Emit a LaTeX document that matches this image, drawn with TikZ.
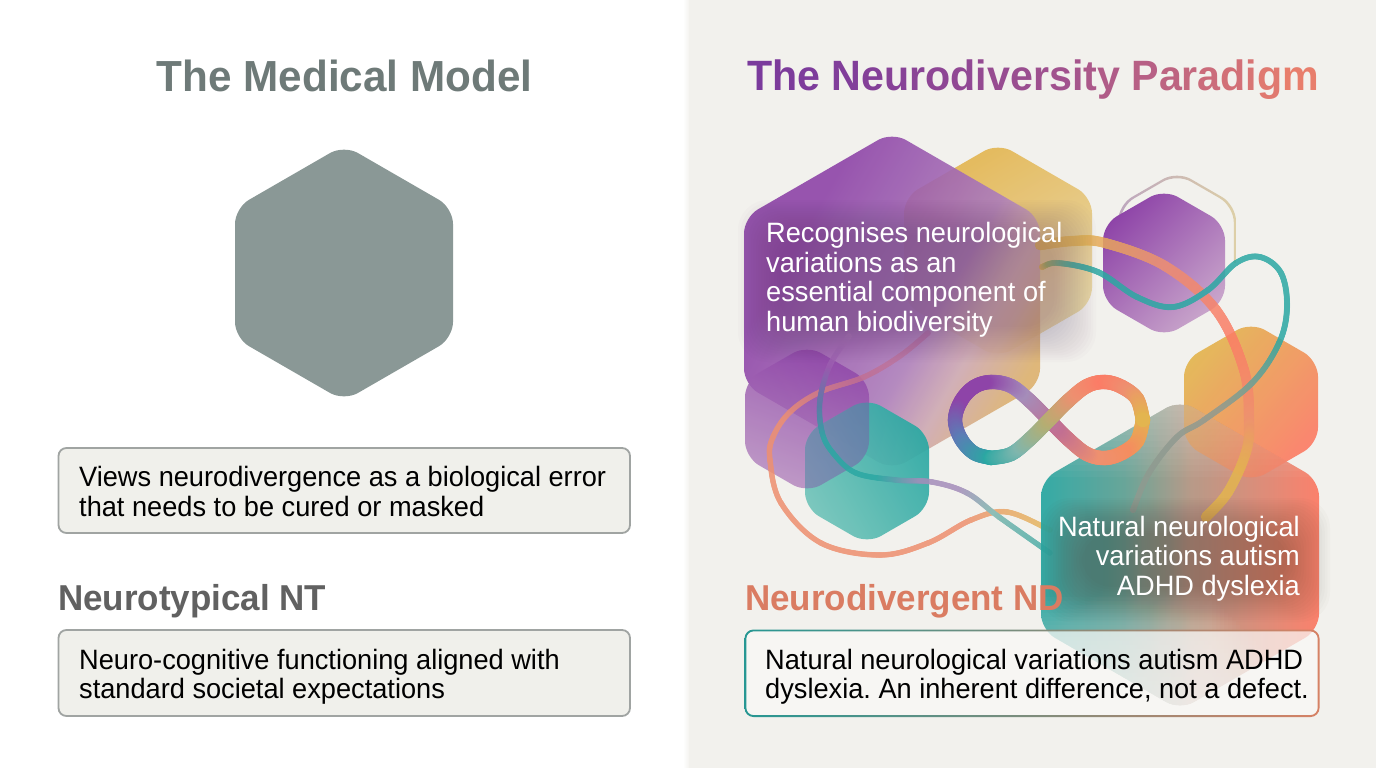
\documentclass[tikz,border=0pt]{standalone}
\usepackage{fontspec}
\setmainfont[FakeStretch=0.971]{Liberation Sans}
\usetikzlibrary{fadings}
\definecolor{panel}{HTML}{F2F1ED}
\definecolor{grayhex}{HTML}{8A9896}
\definecolor{boxfill}{HTML}{F0F0EB}
\definecolor{boxline}{HTML}{A0A4A2}
\definecolor{pDeep}{HTML}{8E44A8}
\definecolor{pMid}{HTML}{AE7FBB}
\definecolor{pPale}{HTML}{C9A6CB}
\definecolor{gold}{HTML}{E3B54F}
\definecolor{goldPale}{HTML}{E8D7A8}
\definecolor{coral}{HTML}{FC7C66}
\definecolor{teal}{HTML}{2BA8A3}
\definecolor{tealPale}{HTML}{8FD0C3}
\definecolor{salmon}{HTML}{EE9070}
\definecolor{mauve}{HTML}{A58DBA}
\definecolor{olive}{HTML}{B5AE72}
\definecolor{blueish}{HTML}{5B7DB6}
\definecolor{pinky}{HTML}{C26F92}
\definecolor{greyish}{HTML}{8F9A90}
\definecolor{tealmid}{HTML}{7FB6AE}
\definecolor{tP}{HTML}{7A3A9C}
\definecolor{tM}{HTML}{B05C88}
\definecolor{tC}{HTML}{E87E6C}
\colorlet{sA}{gold!75!pPale}
\colorlet{sB}{pPale!80!gold}
\colorlet{sC}{pMid!70!pDeep}
\colorlet{sD}{teal!72!salmon}
\colorlet{sE}{greyish!60!salmon}
\pgfdeclareverticalshading{bigpurple}{100bp}{color(0bp)=(sA); color(25bp)=(sA); color(35bp)=(sB); color(43bp)=(pMid); color(50bp)=(sC); color(68bp)=(pDeep); color(100bp)=(pDeep)}
\pgfdeclarehorizontalshading{lowerhex}{100bp}{color(0bp)=(teal); color(25bp)=(teal); color(40bp)=(sD); color(52bp)=(sE); color(75bp)=(coral); color(100bp)=(coral)}
\newcommand\hexp[4]{[rounded corners=16pt] (#1,#3-5) -- (#1+#2,#3-5+.577*#2) -- (#1+#2,#4+5-.577*#2) -- (#1,#4+5) -- (#1-#2,#4+5-.577*#2) -- (#1-#2,#3-5+.577*#2) -- cycle}
% gradient stroke through points (Catmull-Rom), drawn as dense dots
\newcommand\gradpts[3]{%
  \foreach \q [count=\c from 0] in {#2}{\xglobal\colorlet{gsc\c}{\q}\xdef\gN{\c}}%
  \foreach \a/\b [count=\c from 0] in {#3}{%
    \expandafter\xdef\csname px\c\endcsname{\a}%
    \expandafter\xdef\csname py\c\endcsname{\b}\xdef\nP{\c}}%
  \pgfmathtruncatemacro\nS{\nP-1}%
  \foreach \s in {0,...,\nS}{%
    \pgfmathtruncatemacro\sa{max(\s-1,0)}%
    \pgfmathtruncatemacro\sb{\s+1}%
    \pgfmathtruncatemacro\sc{min(\s+2,\nP)}%
    \edef\xa{\csname px\sa\endcsname}\edef\ya{\csname py\sa\endcsname}%
    \edef\xb{\csname px\s\endcsname}\edef\yb{\csname py\s\endcsname}%
    \edef\xc{\csname px\sb\endcsname}\edef\yc{\csname py\sb\endcsname}%
    \edef\xd{\csname px\sc\endcsname}\edef\yd{\csname py\sc\endcsname}%
    \pgfmathsetmacro\mxa{(\xc-\xa)/2}\pgfmathsetmacro\mya{(\yc-\ya)/2}%
    \pgfmathsetmacro\mxb{(\xd-\xb)/2}\pgfmathsetmacro\myb{(\yd-\yb)/2}%
    \pgfmathtruncatemacro\nk{ceil(veclen(\xc-\xb,\yc-\yb)/1.2)}%
    \foreach \k in {0,...,\nk}{%
      \pgfmathsetmacro\tv{\k/\nk}%
      \pgfmathsetmacro\ha{(2*\tv-3)*\tv*\tv+1}%
      \pgfmathsetmacro\hb{(\tv-2)*\tv*\tv+\tv}%
      \pgfmathsetmacro\hc{(3-2*\tv)*\tv*\tv}%
      \pgfmathsetmacro\hd{(\tv-1)*\tv*\tv}%
      \pgfmathsetmacro\xv{\ha*\xb+\hb*\mxa+\hc*\xc+\hd*\mxb}%
      \pgfmathsetmacro\yv{\ha*\yb+\hb*\mya+\hc*\yc+\hd*\myb}%
      \pgfmathsetmacro\ff{(\s+\tv)/\nP*\gN}%
      \pgfmathtruncatemacro\ii{min(floor(\ff),\gN-1)}%
      \pgfmathtruncatemacro\jj{\ii+1}%
      \pgfmathsetmacro\rr{min(100,(\ff-\ii)*100)}%
      \colorlet{dotc}{gsc\jj!\rr!gsc\ii}%
      \fill[dotc] (\xv,\yv) circle[radius=#1pt];%
    }%
  }%
}
\newcommand\glowbox[7]{% x0 y0 x1 y1 colour opacity steps
  \foreach \i in {0,...,#7}{%
    \fill[#5,opacity=#6,rounded corners=30pt]
      ({#1+2.6*\i},{#2+2.2*\i}) rectangle ({#3-2.6*\i},{#4-2.2*\i});
  }%
}
\newcommand\pl[2]{\textcolor{tM!#1!tP}{#2}}
\newcommand\cl[2]{\textcolor{tC!#1!tM}{#2}}
\tikzset{
  bodytext/.style={font=\fontsize{28}{29.5}\selectfont,align=left,inner sep=0pt,text=black},
  whitetext/.style={font=\fontsize{28}{29.5}\selectfont,inner sep=0pt,text=white},
  maintitle/.style={font=\fontsize{43.5}{46}\selectfont\bfseries,inner sep=0pt},
  righttitle/.style={font=\fontsize{42.4}{46}\selectfont\bfseries,inner sep=0pt},
  subtitle/.style={font=\fontsize{36}{38}\selectfont\bfseries,inner sep=0pt},
  leftbox/.style={fill=boxfill,draw=boxline,line width=1.8pt,rounded corners=8pt},
}
\begin{document}
\frenchspacing
\begin{tikzpicture}[x=1pt,y=-1pt]
\useasboundingbox (0,0) rectangle (1376,768);
\fill[white] (0,0) rectangle (1376,768);
\shade[left color=white,right color=panel] (683,0) rectangle (690,768);
\fill[panel] (689,0) rectangle (1376,768);

% left panel
\node[maintitle,text=grayhex!80!black] (ttl) at (344.5,76) {The Medical Model};
\fill[grayhex] \hexp{344}{109}{150}{396};
\draw[leftbox] (58.5,448) rectangle (630,533);
\node[bodytext,anchor=west] (viewtxt) at (79,491.5) {Views neurodivergence as a biological error\\that needs to be cured or masked};
\node[subtitle,anchor=west,text=black!62] (nt) at (58,601.5) {Neurotypical NT};
\draw[leftbox] (58.5,630) rectangle (630,716);
\node[bodytext,anchor=west] (nttxt) at (79,677) {Neuro-cognitive functioning aligned with\\standard societal expectations};

% right title
\node[righttitle,anchor=west] (rttl) at (747,80) {\pl{0}{T}\pl{3}{h}\pl{6}{e} \pl{12}{N}\pl{18}{e}\pl{24}{u}\pl{30}{r}\pl{36}{o}\pl{42}{d}\pl{48}{i}\pl{54}{v}\pl{60}{e}\pl{66}{r}\pl{72}{s}\pl{80}{i}\pl{90}{t}\pl{100}{y} \cl{12}{P}\cl{24}{a}\cl{36}{r}\cl{48}{a}\cl{60}{d}\cl{72}{i}\cl{85}{g}\cl{100}{m}};

% hexagons
\shade[left color=gold,middle color=gold!80!goldPale,right color=goldPale,shading angle=30,fill opacity=.92] \hexp{998}{94}{148}{353};
\shade[shading=bigpurple,shading angle=60,fill opacity=.9] \hexp{892}{148}{137}{465};
\begin{scope}
  \clip (1100,170) rectangle (1240,262);
  \shade[even odd rule,left color=pPale!70!boxline,right color=goldPale!85!boxline]
    \hexp{1177}{59}{176}{340} \hexp{1177}{56.8}{178.6}{337.4};
\end{scope}
\shade[left color=pDeep,right color=pPale,shading angle=45] \hexp{1164}{61}{194}{332};
\shade[left color=gold,right color=coral,shading angle=50,fill opacity=.92] \hexp{1251}{67}{327}{477};
\shade[left color=pDeep,right color=pMid!70!pPale,shading angle=-20,fill opacity=.85] \hexp{807}{62}{350}{488};
\shade[left color=tealPale!70!teal,middle color=teal,right color=teal,shading angle=120,fill opacity=.92] \hexp{867}{62}{403}{539};
\begin{scope}
  \clip \hexp{867}{62}{403}{539};
  \fill[pDeep,opacity=.38] \hexp{807}{62}{350}{488};
\end{scope}

% curves that pass behind the large lower shape
\begin{scope}[transparency group,opacity=.86]
\gradpts{2.8}{pMid!70!pinky,pinky,salmon,salmon,salmon,salmon,gold!80!goldPale}{928/333,900/356,864/377,820/392,790/412,773/437,770/460,781/503,821/543,880/555,928/543,971/520,1007/512,1050/530}
\gradpts{2.8}{pMid,pDeep!60!pMid,pDeep!40!teal,teal,teal,teal,mauve,mauve,tealmid,teal!70!tealmid}{849/336,830/365,820/400,822/432,833/453,856/473,896/480,932/482,967/493,999/517,1050/553}
\end{scope}

\shade[shading=lowerhex,fill opacity=.95] \hexp{1180}{139}{405}{705};
\begin{scope}
  \clip \hexp{1180}{139}{405}{705};
  \foreach \i in {0,...,12}{\fill[panel,opacity=.04] (1040,405) rectangle (1320,{405+6*\i});}
  \foreach \i in {0,...,27}{\fill[panel,opacity=.026] (1040,{705-4*\i}) rectangle ({1320-4*\i},705);}
  \shade[left color=gold,right color=coral,shading angle=50,fill opacity=.55] \hexp{1251}{67}{327}{477};
\end{scope}

% curves on top
\begin{scope}[transparency group,opacity=.85]
\gradpts{5.2}{gold,gold,salmon,coral,salmon,gold,gold}{1040/245,1073/241,1105/243,1165/266,1216/310,1244/370,1249/420,1246/452,1228/492,1206/517}
\gradpts{3}{gold,teal,teal,teal,teal,teal,teal,greyish,greyish,greyish}{1042/267,1058/263,1098/272,1137/297,1173/307,1208/290,1236/263,1260/257,1281/273,1287/307,1279/343,1252/383,1204/420,1177/437,1149/473,1133/510}
\end{scope}

% infinity
\gradpts{7.2}{gold,coral!70!gold,salmon,pinky,mauve,pDeep,pDeep,blueish,teal}{1143/420,1137/441,1122/453,1105/458,1087/454,1068/439,1049/420,1030/401,1011/386,991/382,974/387,961/401,955/420,961/439,974/453,991/458}
\gradpts{7.2}{teal,tealmid,olive,salmon,coral,salmon,gold}{991/458,1011/454,1030/439,1049/420,1068/401,1087/386,1105/382,1122/387,1137/399,1143/420}

% glows behind the text in the shapes
\glowbox{738}{200}{1096}{362}{pDeep!55!black}{.014}{16}
\glowbox{1040}{498}{1330}{622}{black!70!coral}{.02}{16}

\node[whitetext,anchor=west,align=left] (rectxt) at (766,280) {Recognises neurological\\variations as an\\essential component of\\human biodiversity};
\node[whitetext,anchor=east,align=right] (nattxt) at (1300,558.5) {Natural neurological\\variations autism\\ADHD dyslexia};
\node[subtitle,anchor=west,text=salmon!70!coral!90!black] (nd) at (745,601.5) {Neurodivergent ND};

% right box
\fill[white!50!panel,fill opacity=.72,rounded corners=8pt] (745.5,630.5) rectangle (1318.5,716);
\shade[even odd rule,left color=teal!90!black,middle color=greyish,right color=salmon!90!black]
  [rounded corners=9pt] (744.5,629.5) rectangle (1319.5,717)
  [rounded corners=7.5pt] (746.3,631.3) rectangle (1317.7,715.2);
\node[bodytext,anchor=west] (ndtxt) at (765,677) {Natural neurological variations autism ADHD\\dyslexia. An inherent difference, not a defect.};
\end{tikzpicture}
\end{document}
